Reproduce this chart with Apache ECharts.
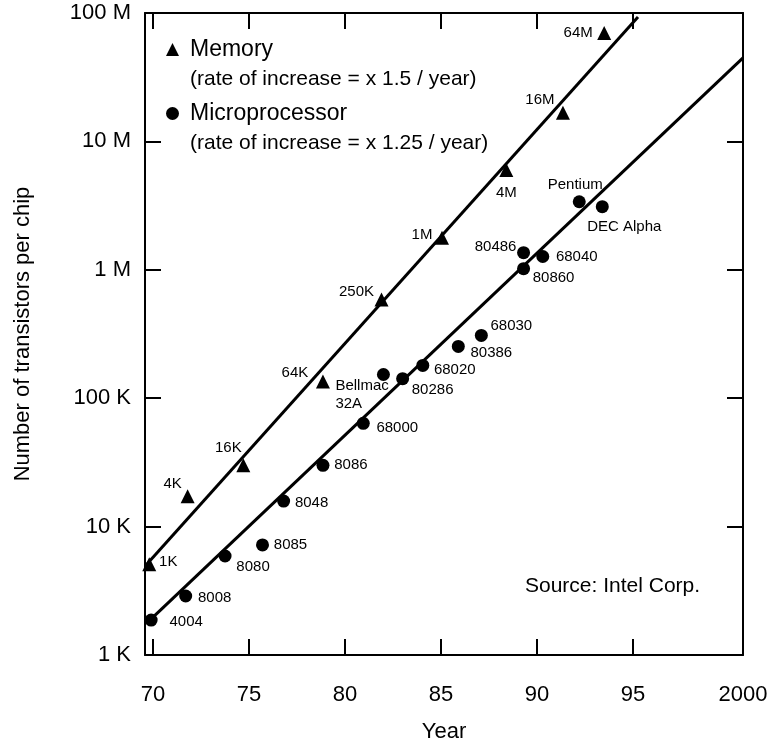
<!DOCTYPE html>
<html>
<head>
<meta charset="utf-8">
<script src="https://cdn.jsdelivr.net/npm/echarts@6/dist/echarts.min.js"></script>
<style>
html,body{margin:0;padding:0;background:#fff;}
#main{width:783px;height:746px;}
</style>
</head>
<body>
<div id="main"></div>
<script>
// ---- data ----
const memYears  = [69.8, 71.8, 74.7, 78.85, 81.9, 85.05, 88.4, 91.35, 93.5];
const memValues = [5100, 17200, 30000, 135000, 587000, 1780000, 6000000, 16700000, 70000000];
const memNames  = ['1K', '4K', '16K', '64K', '250K', '1M', '4M', '16M', '64M'];

const cpuYears  = [69.9, 71.7, 73.75, 75.7, 76.8, 78.85, 80.95, 82.0, 83.0, 84.05, 85.9, 87.1, 89.3, 89.3, 90.3, 92.2, 93.4];
const cpuValues = [1870, 2880, 5900, 7200, 15800, 30000, 63700, 153000, 142000, 180000, 253000, 308000, 1360000, 1020000, 1270000, 3390000, 3100000];
const cpuNames  = ['4004', '8008', '8080', '8085', '8048', '8086', '68000', 'Bellmac\n32A', '80286', '68020', '80386', '68030', '80486', '80860', '68040', 'Pentium', 'DEC Alpha'];

const memTrendYears  = [69.58, 95.26];
const memTrendValues = [4920, 93000000];
const cpuTrendYears  = [70.0, 100.73];
const cpuTrendValues = [1970, 44700000];

const xTickValues  = [70, 75, 80, 85, 90, 95];
const xLabelValues = [70, 75, 80, 85, 90, 95, 100.73];
const xLabelTexts  = ['70', '75', '80', '85', '90', '95', '2000'];
const yTickValues  = [1e3, 1e4, 1e5, 1e6, 1e7, 1e8];
const yTickLabels  = ['1 K', '10 K', '100 K', '1 M', '10 M', '100 M'];

// ---- label layout (offsets from marker centre) ----
const memLabelOffsets = [[19,-2],[-15,-12],[-15,-17],[-28,-9],[-25,-8],[-20,-3],[0,23],[-23,-13],[-26,0]];
const cpuLabelOffsets = [[35,2],[29,2],[28,11],[28,0],[28,2],[28,0],[34,5],[-48,20],[30,11],[32,4],[33,6],[30,-10],[-28,-6],[30,9],[34,0],[-4,-17],[22,20]];
const cpuLabelAlign = cpuNames.map(n => n.indexOf('\n') >= 0 ? 'left' : 'center');

const FONT = '"Liberation Sans", Arial, Helvetica, sans-serif';

function buildPoints(years, values, names, offsets, aligns) {
  return years.map((y, i) => ({
    value: [y, values[i]],
    name: names[i],
    label: { offset: offsets[i], align: aligns ? aligns[i] : 'center' }
  }));
}

const chart = echarts.init(document.getElementById('main'), null, {renderer: 'canvas'});

const axisLine = { show: true, lineStyle: { color: '#000', width: 2 } };
const tickStyle = { show: true, inside: true, length: 16, lineStyle: { color: '#000', width: 2 } };

const option = {
  backgroundColor: '#fff',
  animation: false,
  textStyle: { fontFamily: FONT, color: '#000' },
  grid: { left: 145, right: 40, top: 13, bottom: 91, containLabel: false, outerBoundsMode: 'none' },
  legend: {
    left: 161,
    top: 33,
    orient: 'vertical',
    itemWidth: 13,
    itemHeight: 13,
    itemGap: 12,
    data: ['Memory', 'Microprocessor'],
    formatter: function (name) {
      return name === 'Memory'
        ? '{a|Memory}\n{b|(rate of increase = x 1.5 / year)}'
        : '{a|Microprocessor}\n{b|(rate of increase = x 1.25 / year)}';
    },
    textStyle: {
      padding: [34, 0, 0, 6],
      rich: {
        a: { fontSize: 23, lineHeight: 26, fontFamily: FONT, color: '#000' },
        b: { fontSize: 21, lineHeight: 34, fontFamily: FONT, color: '#000' }
      }
    }
  },
  xAxis: [{
    type: 'value',
    min: 69.58,
    max: 100.73,
    name: 'Year',
    nameLocation: 'middle',
    nameGap: 66,
    nameTextStyle: { fontSize: 22, color: '#000', fontFamily: FONT },
    axisLine: axisLine,
    axisTick: Object.assign({}, tickStyle, { customValues: xTickValues }),
    axisLabel: {
      customValues: xLabelValues,
      margin: 29,
      fontSize: 22,
      color: '#000',
      fontFamily: FONT,
      formatter: function (v) {
        const i = xLabelValues.indexOf(v);
        return i >= 0 ? xLabelTexts[i] : '';
      }
    },
    splitLine: { show: false }
  }, {
    type: 'value',
    position: 'top',
    min: 69.58,
    max: 100.73,
    axisLine: axisLine,
    axisTick: Object.assign({}, tickStyle, { customValues: xTickValues }),
    axisLabel: { show: false },
    splitLine: { show: false }
  }],
  yAxis: [{
    type: 'log',
    logBase: 10,
    min: 1e3,
    max: 1e8,
    name: 'Number of transistors per chip',
    nameLocation: 'middle',
    nameGap: 111,
    nameTextStyle: { fontSize: 22, color: '#000', fontFamily: FONT },
    axisLine: axisLine,
    axisTick: tickStyle,
    axisLabel: {
      margin: 14,
      fontSize: 22,
      color: '#000',
      fontFamily: FONT,
      formatter: function (v) {
        const i = yTickValues.findIndex(t => Math.abs(Math.log10(t) - Math.log10(v)) < 1e-6);
        return i >= 0 ? yTickLabels[i] : '';
      }
    },
    splitLine: { show: false },
    minorTick: { show: false }
  }, {
    type: 'log',
    logBase: 10,
    min: 1e3,
    max: 1e8,
    position: 'right',
    axisLine: axisLine,
    axisTick: tickStyle,
    axisLabel: { show: false },
    splitLine: { show: false }
  }],
  graphic: [{
    type: 'text',
    left: 525,
    top: 576,
    style: { text: 'Source: Intel Corp.', font: '21px ' + FONT, fill: '#000' }
  }],
  series: [{
    name: 'Memory trend',
    type: 'line',
    data: memTrendYears.map((y, i) => [y, memTrendValues[i]]),
    showSymbol: false,
    symbol: 'none',
    lineStyle: { color: '#000', width: 3 },
    z: 2
  }, {
    name: 'Microprocessor trend',
    type: 'line',
    data: cpuTrendYears.map((y, i) => [y, cpuTrendValues[i]]),
    showSymbol: false,
    symbol: 'none',
    lineStyle: { color: '#000', width: 3 },
    z: 2
  }, {
    name: 'Memory',
    type: 'scatter',
    symbol: 'triangle',
    symbolSize: 14,
    itemStyle: { color: '#000', opacity: 1 },
    data: buildPoints(memYears, memValues, memNames, memLabelOffsets),
    label: {
      show: true,
      position: 'inside',
      formatter: p => p.name,
      fontSize: 15,
      color: '#000',
      fontFamily: FONT
    },
    z: 3
  }, {
    name: 'Microprocessor',
    type: 'scatter',
    symbol: 'circle',
    symbolSize: 13,
    itemStyle: { color: '#000', opacity: 1 },
    data: buildPoints(cpuYears, cpuValues, cpuNames, cpuLabelOffsets, cpuLabelAlign),
    label: {
      show: true,
      position: 'inside',
      formatter: p => p.name,
      fontSize: 15,
      lineHeight: 18,
      color: '#000',
      fontFamily: FONT
    },
    z: 3
  }]
};

chart.setOption(option);
</script>
</body>
</html>
